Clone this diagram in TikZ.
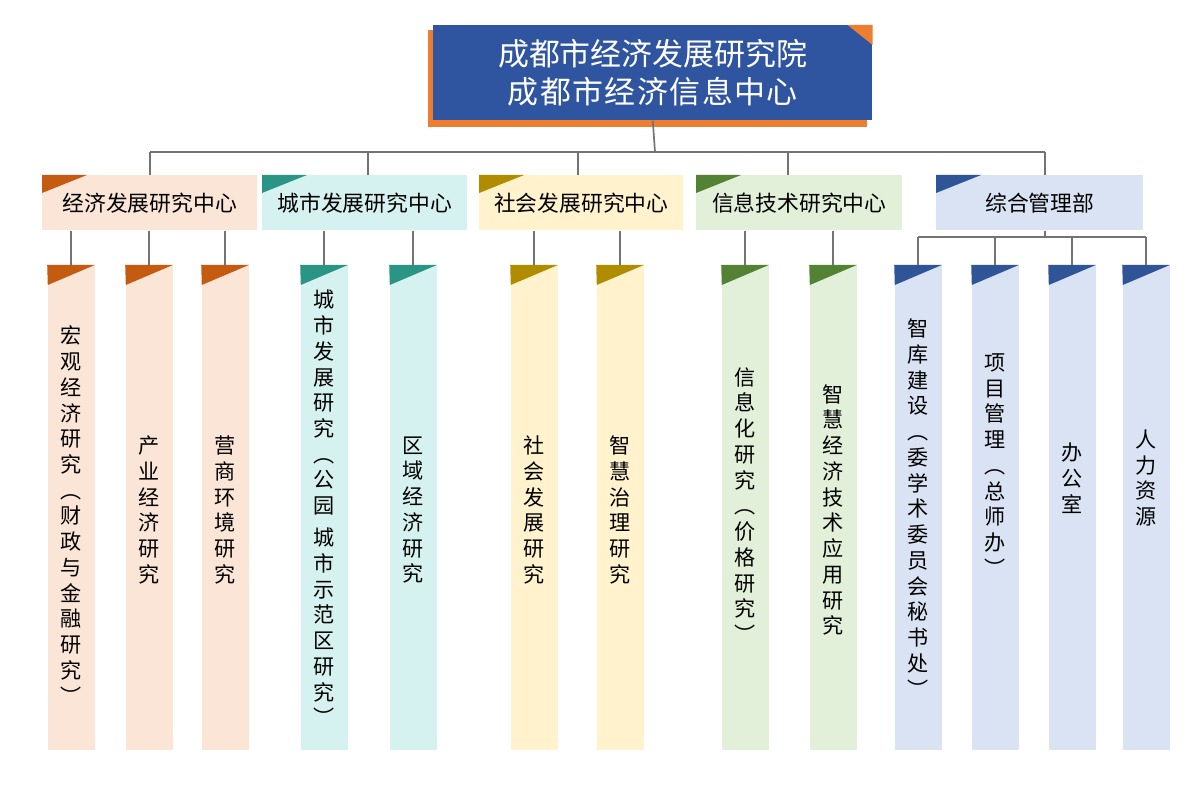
\documentclass[tikz,border=0pt]{standalone}
\usepackage{fontspec}
\setmainfont{Noto Sans CJK SC}
\definecolor{topblue}{HTML}{2F55A0}
\definecolor{toporange}{HTML}{ED7D31}
\definecolor{fillA}{HTML}{FBE5D6}\definecolor{triA}{HTML}{C55A11}
\definecolor{fillB}{HTML}{D5F2F0}\definecolor{triB}{HTML}{2A9485}
\definecolor{fillC}{HTML}{FFF2CC}\definecolor{triC}{HTML}{B08C00}
\definecolor{fillD}{HTML}{E2F0D9}\definecolor{triD}{HTML}{548235}
\definecolor{fillE}{HTML}{DAE3F3}\definecolor{triE}{HTML}{2F5597}
\begin{document}
\begin{tikzpicture}[x=0.025cm,y=-0.025cm,
    link/.style={draw=gray!90!black,line width=1.2pt},
    center/.style={minimum width=#1*0.025cm,minimum height=55*0.025cm,inner sep=0pt,font=\fontsize{15.5pt}{18pt}\selectfont},
    column/.style={minimum width=47*0.025cm,minimum height=485*0.025cm,inner sep=0pt,anchor=north},
    coltext/.style={align=center,font=\fontsize{15pt}{18.3pt}\selectfont}]
\useasboundingbox (0,0) rectangle (1200,786);
% top box
\fill[toporange] (428,30) rectangle (867,127);
\node[fill=topblue,minimum width=439*0.025cm,minimum height=95*0.025cm,inner sep=0pt,anchor=north west,
  text=white,align=center,font=\fontsize{22pt}{27pt}\selectfont] (top) at (433,25)
  {成都市经济发展研究院\\\makebox[7.25cm][s]{成\hfil 都\hfil 市\hfil 经\hfil 济\hfil 信\hfil 息\hfil 中\hfil 心}};
\fill[toporange] (top.north east) -- ++(-25,0) -- ++(25,20) -- cycle;
% centres
\foreach \name/\xl/\w/\grp/\txt in {ca/42/215/A/经济发展研究中心,cb/262/205/B/城市发展研究中心,
    cc/479/204/C/社会发展研究中心,cd/696/206/D/信息技术研究中心,ce/936/207/E/综合管理部}{
  \node[center=\w,fill=fill\grp,anchor=north west] (\name) at (\xl,175) {\txt};
  \fill[tri\grp] (\name.north west) -- ++(45,0) -- ++(-45,18) -- cycle;
}
% columns
\foreach \name/\xc/\grp/\yt/\txt in {
    a1/71/A/515/宏\\观\\经\\济\\研\\究\\︵\\财\\政\\与\\金\\融\\研\\究\\︶,
    a2/149/A/510/产\\业\\经\\济\\研\\究,
    a3/225/A/510/营\\商\\环\\境\\研\\究,
    b1/324/B/508/城\\市\\发\\展\\研\\究\\︵\\公\\园\\[0.3em]城\\市\\示\\范\\区\\研\\究\\︶,
    b2/413/B/510/区\\域\\经\\济\\研\\究,
    c1/534/C/510/社\\会\\发\\展\\研\\究,
    c2/620/C/510/智\\慧\\治\\理\\研\\究,
    d1/745/D/505/信\\息\\化\\研\\究\\︵\\价\\格\\研\\究\\︶,
    d2/833/D/510/智\\慧\\经\\济\\技\\术\\应\\用\\研\\究,
    e1/918/E/508/智\\库\\建\\设\\︵\\委\\学\\术\\委\\员\\会\\秘\\书\\处\\︶,
    e2/995/E/465/项\\目\\管\\理\\︵\\总\\师\\办\\︶,
    e3/1072/E/478/办\\公\\室,
    e4/1146/E/478/人\\力\\资\\源}{
  \node[column,fill=fill\grp] (\name) at (\xc,265) {};
  \fill[tri\grp] (\name.north west) -- (\name.north east) -- ++(-47,20) -- cycle;
  \node[coltext] (\name t) at (\xc,\yt) {\txt};
}
% links
\draw[link] (top.south) -- (655,152) coordinate (bus);
\draw[link] (150,152) -- (1045,152);
\foreach \c/\x in {ca/150,cb/368,cc/578,cd/788,ce/1045}
  \draw[link] (\x,152) -- (\c.north -| \x,0);
\foreach \c/\s in {ca/a1,ca/a2,ca/a3,cb/b1,cb/b2,cc/c1,cc/c2,cd/d1,cd/d2}
  \draw[link] (\c.south -| \s.north) -- (\s.north);
\draw[link] (ce.south -| 1045,0) -- (1045,237);
\draw[link] (918,237) -- (1146,237);
\foreach \s in {e1,e2,e3,e4}
  \draw[link] (\s.north |- 0,237) -- (\s.north);
\end{tikzpicture}
\end{document}
